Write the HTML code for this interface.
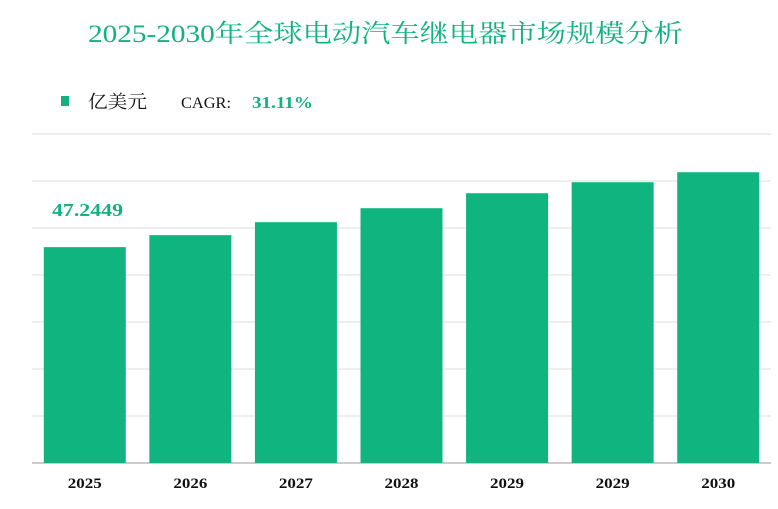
<!DOCTYPE html>
<html><head><meta charset="utf-8"><style>
body{margin:0;background:#fff;width:778px;height:504px;overflow:hidden;font-family:"Liberation Serif","Noto Serif CJK SC",serif}
</style></head><body>
<svg width="778" height="504">
<text x="88" y="42" textLength="595" lengthAdjust="spacingAndGlyphs" font-size="25" fill="#10b27f" font-family="Liberation Serif, Noto Serif CJK SC, serif">2025-2030年全球电动汽车继电器市场规模分析</text>
<rect x="61" y="96" width="8" height="10" fill="#10b27f"/>
<text x="88" y="108" textLength="59" lengthAdjust="spacingAndGlyphs" font-size="18" fill="#111">亿美元</text>
<text x="181" y="108" textLength="50" lengthAdjust="spacingAndGlyphs" font-size="16" fill="#111">CAGR:</text>
<text x="252" y="108" textLength="61" lengthAdjust="spacingAndGlyphs" font-size="17" fill="#10b27f" font-weight="bold">31.11%</text>
<g id="grid"></g><g id="bars"></g><g id="xlabels"></g>
<text x="52" y="216" textLength="71" lengthAdjust="spacingAndGlyphs" font-size="18" fill="#10b27f" font-weight="bold">47.2449</text>
</svg>
<script>
const categories=["2025","2026","2027","2028","2029","2029","2030"];
const values=[47.24,49.86,52.7,55.76,59.04,61.45,63.63];
const yMax=72;
const gridCount=7;
const L=32,R=771,T=134,B=463;
const ns="http://www.w3.org/2000/svg";
const y=v=>B-(v/yMax)*(B-T);
const bw=(R-L)/categories.length;
const g=document.getElementById('grid');
for(let i=1;i<=gridCount;i++){const ln=document.createElementNS(ns,'line');const yy=B-i*(B-T)/gridCount;
ln.setAttribute('x1',L);ln.setAttribute('x2',R);ln.setAttribute('y1',yy);ln.setAttribute('y2',yy);ln.setAttribute('stroke','#dcdcdc');


g.appendChild(ln);}
const ax=document.createElementNS(ns,'line');ax.setAttribute('x1',L);ax.setAttribute('x2',R);ax.setAttribute('y1',B);ax.setAttribute('y2',B);ax.setAttribute('stroke','#999');


g.appendChild(ax);
const bg=document.getElementById('bars'),xl=document.getElementById('xlabels');
categories.forEach((c,i)=>{const cx=L+bw*(i+0.5);const r=document.createElementNS(ns,'rect');
r.setAttribute('x',cx-41);r.setAttribute('width',82);r.setAttribute('y',y(values[i]));r.setAttribute('height',B-y(values[i]));r.setAttribute('fill','#0fb47f');


bg.appendChild(r);
const t=document.createElementNS(ns,'text');t.setAttribute('x',cx-17);t.setAttribute('y',488);t.setAttribute('textLength','34');t.setAttribute('lengthAdjust','spacingAndGlyphs');t.setAttribute('font-size','15');t.setAttribute('font-weight','bold');t.setAttribute('fill','#111');t.textContent=c;


xl.appendChild(t);});
</script>
</body></html>
